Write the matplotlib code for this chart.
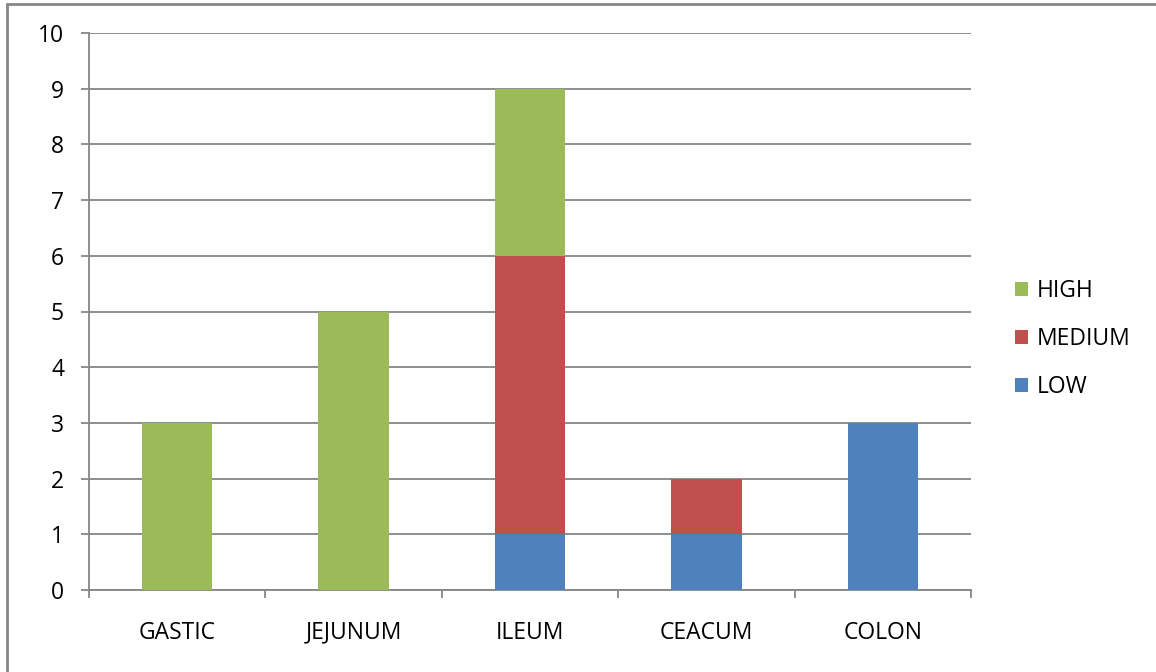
import numpy as np
import matplotlib.pyplot as plt
from matplotlib.patches import Rectangle

plt.rcParams['font.family'] = ['Open Sans', 'DejaVu Sans']

sites = ['GASTIC', 'JEJUNUM', 'ILEUM', 'CEACUM', 'COLON']
low = [0, 0, 1, 1, 3]
medium = [0, 0, 5, 1, 0]
high = [3, 5, 3, 0, 0]

c_low, c_med, c_high = '#4F81BD', '#C0504D', '#9BBB59'
grid_c = '#868686'
fs = 16.5

fig = plt.figure(figsize=(11.56, 6.72), dpi=100)
fig.patches.append(Rectangle((7/1156, -0.1), 1.2, 1 - 4/672 + 0.1, transform=fig.transFigure,
                             fill=False, ec=grid_c, lw=2))
ax = fig.add_axes([89/1156, 1 - 590/672, 882/1156, 557/672])

x = np.arange(len(sites))
w = 0.4
ax.bar(x, low, w, color=c_low, label='LOW', zorder=3)
ax.bar(x, medium, w, bottom=low, color=c_med, label='MEDIUM', zorder=3)
ax.bar(x, high, w, bottom=np.array(low) + np.array(medium), color=c_high, label='HIGH', zorder=3)

ax.set_xlim(-0.5, 4.5)
ax.set_ylim(0, 10)
ax.set_yticks(range(0, 11))
ax.yaxis.grid(True, color=grid_c, lw=1.3, zorder=0)
ax.set_xticks(x)
ax.set_xticklabels(sites, fontsize=fs)
ax.set_xticks(np.arange(-0.5, 5, 1), minor=True)
ax.tick_params(axis='x', which='major', length=0, pad=22)
ax.tick_params(axis='x', which='minor', length=6, color=grid_c, width=1.3, direction='out')
ax.tick_params(axis='y', length=6, color=grid_c, width=1.3, labelsize=fs, pad=12)
for s in ['top', 'right']:
    ax.spines[s].set_visible(False)
for s in ['left', 'bottom']:
    ax.spines[s].set_color(grid_c)
    ax.spines[s].set_linewidth(1.3)

h, l = ax.get_legend_handles_labels()
ax.legend(h[::-1], l[::-1], loc='center left', bbox_to_anchor=(1.027, 0.45), frameon=False,
          fontsize=fs, handlelength=0.55, handleheight=0.55, handletextpad=0.4, labelspacing=1.05)

plt.savefig('out.png', dpi=100)
